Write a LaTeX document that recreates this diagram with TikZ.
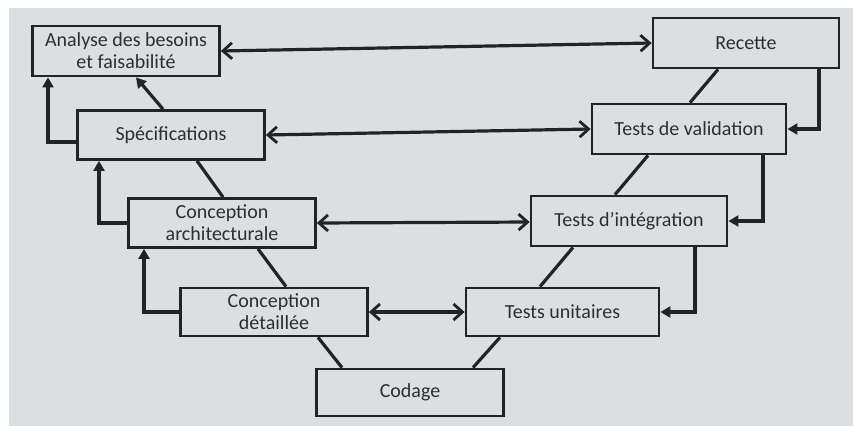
\documentclass[tikz,border=0pt]{standalone}
\usepackage{fontspec}
\setmainfont{Carlito}
\usetikzlibrary{arrows.meta}
\definecolor{paper}{HTML}{DCDFE2}
\definecolor{ink}{HTML}{232323}
\definecolor{txt}{HTML}{2E2E2E}
\tikzset{barb/.tip={Straight Barb[length=9pt,width=16pt,line width=2.8pt]}}
\begin{document}
\begin{tikzpicture}[x=1pt,y=-1pt,
  phase/.style={draw=ink, line width=2.8pt, fill=none, text=txt,
    minimum width=#1, align=center, font=\fontsize{20}{22}\selectfont,
    inner sep=0pt},
  phase/.default=187pt,
  link/.style={draw=ink, line width=3.2pt},
  pair/.style={link, barb-barb},
  back/.style={link, -{Triangle[length=10pt,width=11pt]}}]
  % paper
  \useasboundingbox (0,0) rectangle (853,426);
  \fill[white] (0,0) rectangle (853,426);
  \fill[paper] (9,8) rectangle (853,426);

  % descending branch
  \node[phase, minimum height=50pt] (ana) at (126,51) {Analyse des besoins\\et faisabilité};
  \node[phase, minimum height=49pt] (spe) at (171,135) {Spécifications};
  \node[phase, minimum height=49pt] (arc) at (222,223) {Conception\\architecturale};
  \node[phase, minimum height=48pt] (det) at (274,312) {Conception\\détaillée};
  \node[phase, minimum height=47pt] (cod) at (410,392.5) {Codage};
  % ascending branch
  \node[phase=193pt, minimum height=48pt] (uni) at (562.5,312) {Tests unitaires};
  \node[phase=196pt, minimum height=50pt] (int) at (629,221) {Tests d’intégration};
  \node[phase=194pt, minimum height=50pt] (val) at (689,129) {Tests de validation};
  \node[phase=186pt, minimum height=50pt] (rec) at (746,43) {Recette};

  % the V
  \draw[back] (spe.north -| 163,0) -- (ana.south -| 136,0);
  \draw[link] (spe.south -| 197,0) -- (arc.north -| 223,0);
  \draw[link] (arc.south -| 258,0) -- (det.north -| 286,0);
  \draw[link] (det.south -| 318,0) -- (cod.north -| 342,0);
  \draw[link] (cod.north -| 473,0) -- (uni.south -| 500,0);
  \draw[link] (uni.north -| 540,0) -- (int.south -| 573,0);
  \draw[link] (int.north -| 615,0) -- (val.south -| 648,0);
  \draw[link] (val.north -| 690,0) -- (rec.south -| 718,0);

  % correspondences between design and test phases
  \draw[pair] (ana.east) -- (rec.west);
  \draw[pair] (spe.east) -- (val.west);
  \draw[pair] (arc.east) -- (int.west |- 0,222);
  \draw[pair] (det.east) -- (uni.west);

  % feedback on the left
  \draw[back] (spe.west |- 0,142) -| (ana.south -| 48,0);
  \draw[back] (arc.west) -| (spe.south -| 99,0);
  \draw[back] (det.west) -| (arc.south -| 144,0);
  % feedback on the right
  \draw[back] (rec.south -| 819,0) |- (val.east);
  \draw[back] (val.south -| 763,0) |- (int.east);
  \draw[back] (int.south -| 695,0) |- (uni.east);
\end{tikzpicture}
\end{document}
